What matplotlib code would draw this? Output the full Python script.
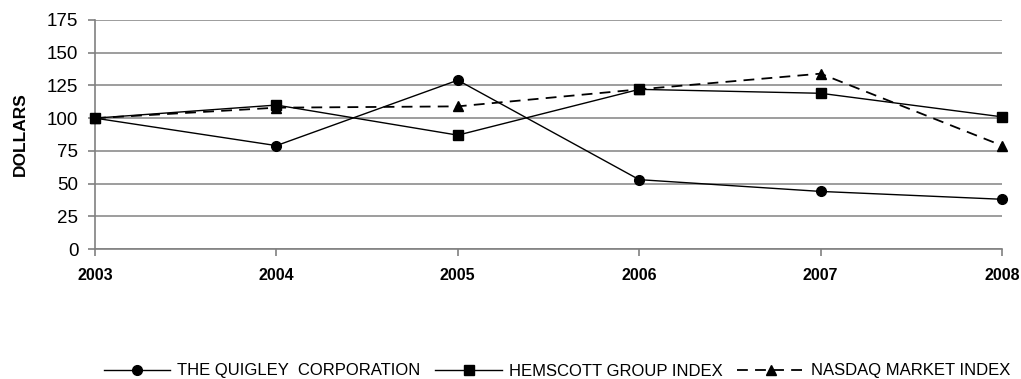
import matplotlib
matplotlib.use("Agg")
import matplotlib.pyplot as plt

plt.rcParams['font.family'] = ['Liberation Sans', 'DejaVu Sans']

# Données
annees = [2003, 2004, 2005, 2006, 2007, 2008]
quigley = [100, 79, 129, 53, 44, 38]
hemscott = [100, 110, 87, 122, 119, 101]
nasdaq = [100, 108, 109, 122, 134, 79]
yticks = [0, 25, 50, 75, 100, 125, 150, 175]

fig = plt.figure(figsize=(10.21, 3.79), dpi=100)
ax = fig.add_axes([95/1021, 1 - 249/379, (1002-95)/1021, (249-20)/379])

ax.plot(annees, quigley, color='black', lw=1, marker='o', ms=7,
        label='THE QUIGLEY  CORPORATION', clip_on=False, zorder=3)
ax.plot(annees, hemscott, color='black', lw=1, marker='s', ms=7,
        label='HEMSCOTT GROUP INDEX', clip_on=False, zorder=3)
ax.plot(annees, nasdaq, color='black', lw=1.3, ls=(0, (6, 4)), marker='^', ms=7,
        label='NASDAQ MARKET INDEX', clip_on=False, zorder=3)

ax.set_xlim(2003, 2008)
ax.set_ylim(0, 175)
ax.set_xticks(annees)
ax.set_xticklabels([str(a) for a in annees], fontweight='bold', fontsize=11.5)
ax.set_yticks(yticks)
ax.set_yticklabels([str(v) for v in yticks], fontsize=13.5)

ax.yaxis.grid(True, color='#8c8c8c', lw=1.2)
ax.set_axisbelow(True)
for s in ['top', 'right']:
    ax.spines[s].set_visible(False)
for s in ['left', 'bottom']:
    ax.spines[s].set_color('#808080')
    ax.spines[s].set_linewidth(1.2)
ax.tick_params(axis='both', colors='#808080', length=5, width=1.2)
ax.tick_params(axis='both', labelcolor='black')
ax.tick_params(axis='x', pad=9)
ax.tick_params(axis='y', pad=7)

ax.set_ylabel('DOLLARS', fontweight='bold', fontsize=12.5, labelpad=14)

fig.legend(loc='center', bbox_to_anchor=(557/1021, 1 - 371/379), ncol=3, frameon=False,
           fontsize=12, handlelength=4.0, columnspacing=0.9, handletextpad=0.4)

fig.savefig('out.png', dpi=100)
